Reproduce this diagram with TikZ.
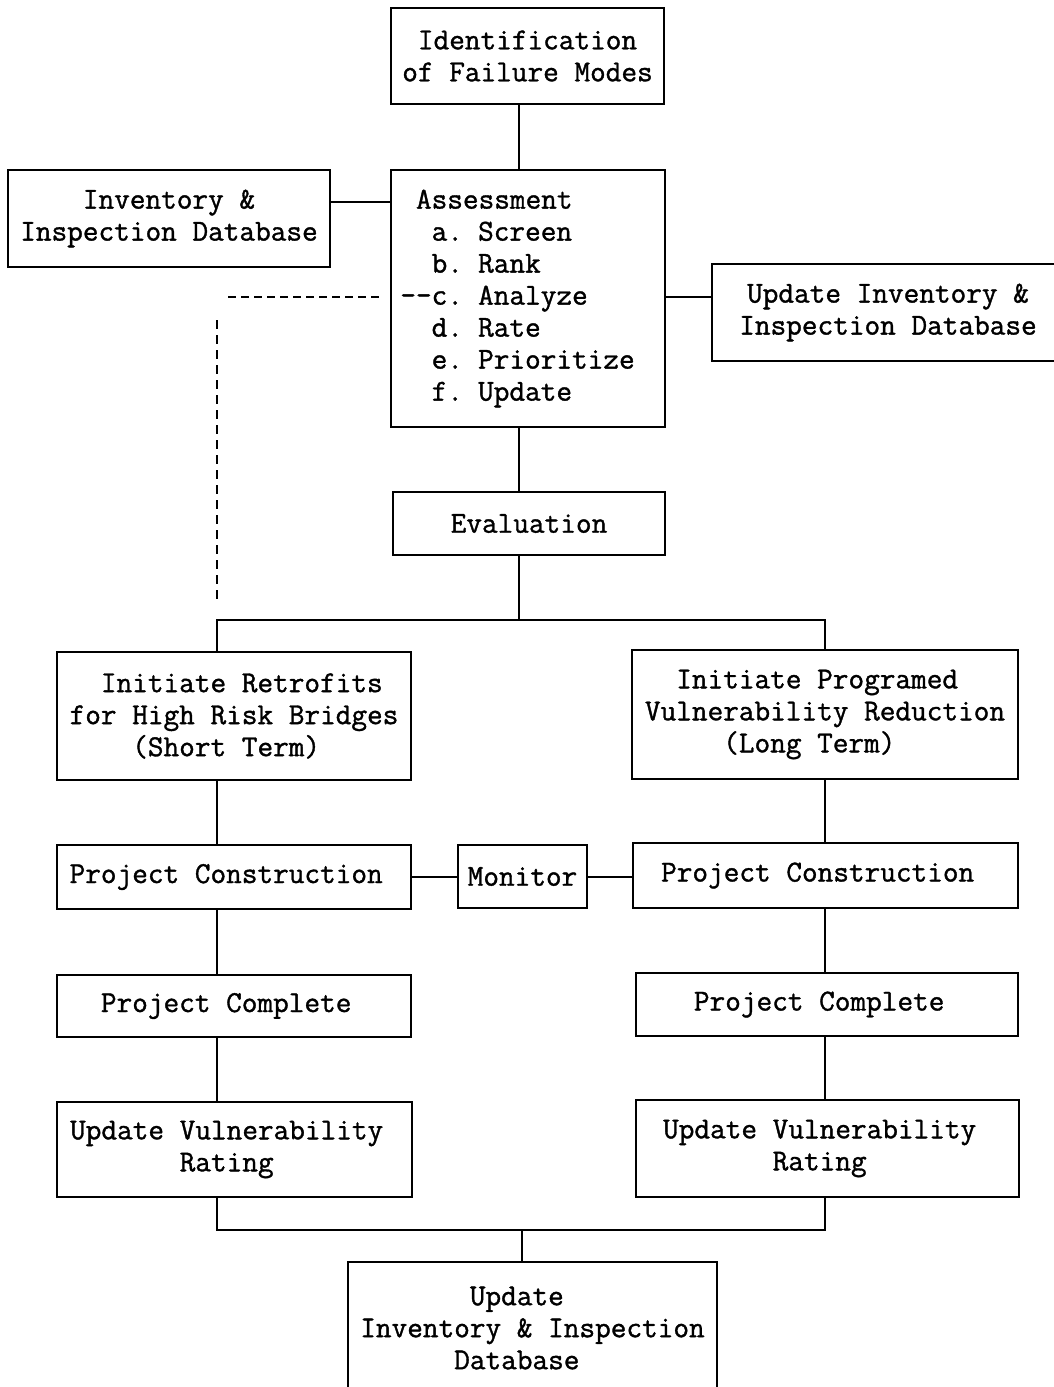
\documentclass[tikz,border=0pt]{standalone}
\usepackage{fontspec}
\newfontfamily\cour{Latin Modern Mono}[FakeBold=1.2]
\begin{document}
\begin{tikzpicture}[x=0.5pt,y=-0.5pt,
  box/.style={draw, line width=1.25pt, inner sep=2pt, align=center,
    font=\cour\fontsize{15.2}{16}\selectfont},
  conn/.style={line width=1.1pt},
  dash1/.style={line width=1pt, dash pattern=on 4pt off 2.5pt},
  dash2/.style={line width=1pt, dash pattern=on 4.5pt off 3pt}]
\useasboundingbox (0,0) rectangle (1054,1387);
\clip (0,0) rectangle (1054,1387);
% boxes
\node[box, minimum width=136.5pt, minimum height=48pt] (id) at (527.5,56) {Identification\\of Failure Modes};
\node[box, minimum width=161pt, minimum height=48.5pt] (inv) at (169,218.5) {Inventory \&\\Inspection Database};
\node[box, align=left, text width=112pt, inner xsep=12.5pt, minimum height=128.5pt] (ass) at (528,298.5)
  {Assessment\\
   \hphantom{a}a. Screen\\
   \hphantom{a}b. Rank\\
   \hphantom{a}\llap{-{}-}c. Analyze\\
   \hphantom{a}d. Rate\\
   \hphantom{a}e. Prioritize\\
   \hphantom{a}f. Update};
\node[box, minimum width=176pt, minimum height=48.5pt] (upd) at (888,312.5) {Update Inventory \&\\Inspection Database};
\node[box, minimum width=136pt, minimum height=31.5pt] (eval) at (529,523.5) {Evaluation};
\node[box, minimum width=177pt, minimum height=64pt] (initL) at (234,716) {\hphantom{x}Initiate Retrofits\\for High Risk Bridges\\(Short Term)\hphantom{x}};
\node[box, minimum width=193pt, minimum height=64.5pt] (initR) at (825,714.5) {Initiate Programed\hphantom{x}\\Vulnerability Reduction\\(Long Term)\hphantom{xx}};
\node[box, minimum width=177pt, minimum height=32pt] (pcL) at (234,877) {Project Construction\hphantom{x}};
\node[box, minimum width=64.5pt, minimum height=31.5pt] (mon) at (522.5,876.5) {Monitor};
\node[box, minimum width=192.5pt, minimum height=32.5pt] (pcR) at (825.5,875.5) {Project Construction\hphantom{x}};
\node[box, minimum width=177pt, minimum height=31pt] (cmpL) at (234,1006) {Project Complete\hphantom{x}};
\node[box, minimum width=191pt, minimum height=31.5pt] (cmpR) at (827,1004.5) {Project Complete\hphantom{x}};
\node[box, minimum width=177.5pt, minimum height=47.5pt] (uvL) at (234.5,1149.5) {Update Vulnerability\hphantom{x}\\Rating\hphantom{x}};
\node[box, minimum width=191.5pt, minimum height=48.5pt] (uvR) at (827.5,1148.5) {Update Vulnerability\hphantom{x}\\Rating\hphantom{x}};
\node[box, minimum width=184.5pt, minimum height=66pt] (bot) at (532.5,1328) {Update\hphantom{xx}\\Inventory \& Inspection\\Database\hphantom{xx}};
% helper coordinates
\coordinate (x519) at (519,0);
\coordinate (h202) at (0,202);
\coordinate (h297) at (0,297);
\coordinate (h877) at (0,877);
\coordinate (jM) at (519,620);
\coordinate (jL) at (217,620);
\coordinate (jR) at (825,620);
\coordinate (kL) at (217,1230);
\coordinate (kR) at (825,1230);
\coordinate (kM) at (522,1230);
\coordinate (dH) at (228,297);
\coordinate (dV1) at (217,320);
\coordinate (dV2) at (217,600);
% connectors
\draw[conn] (id.south -| x519) -- (ass.north -| x519);
\draw[conn] (inv.east |- h202) -- (ass.west |- h202);
\draw[conn] (ass.east |- h297) -- (upd.west |- h297);
\draw[conn] (ass.south -| x519) -- (eval.north -| x519);
\draw[conn] (eval.south -| x519) -- (jM);
\draw[conn] (initL.north -| jL) -- (jL) -- (jR) -- (initR.north -| jR);
\draw[conn] (initL.south -| jL) -- (pcL.north -| jL);
\draw[conn] (pcL.south -| jL) -- (cmpL.north -| jL);
\draw[conn] (cmpL.south -| jL) -- (uvL.north -| jL);
\draw[conn] (uvL.south -| kL) -- (kL) -- (kR) -- (uvR.south -| kR);
\draw[conn] (kM) -- (bot.north -| kM);
\draw[conn] (initR.south -| jR) -- (pcR.north -| jR);
\draw[conn] (pcR.south -| jR) -- (cmpR.north -| jR);
\draw[conn] (cmpR.south -| jR) -- (uvR.north -| jR);
\draw[conn] (pcL.east |- h877) -- (mon.west |- h877);
\draw[conn] (mon.east |- h877) -- (pcR.west |- h877);
% dashed
\draw[dash1] (dH) -- ([xshift=-3pt]ass.west |- h297);
\draw[dash2] (dV1) -- (dV2);
\end{tikzpicture}
\end{document}
